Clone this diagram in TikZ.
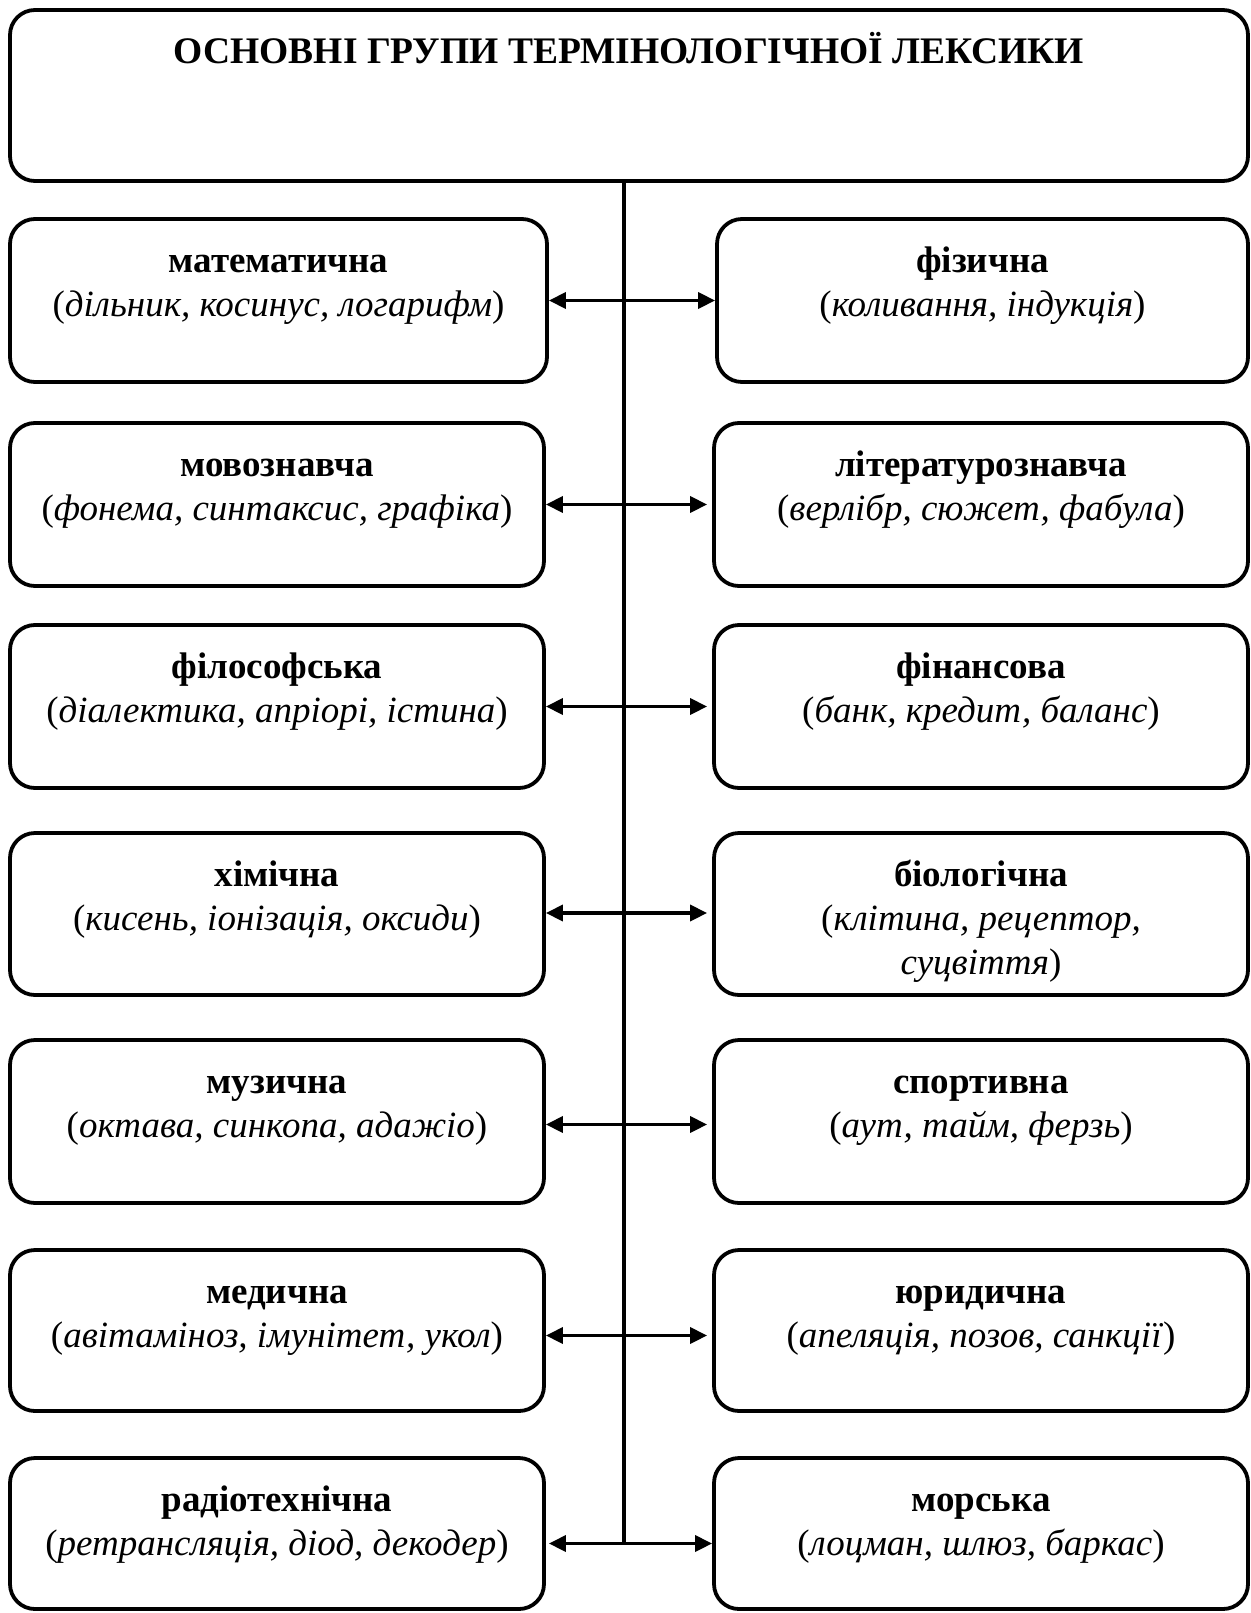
\documentclass[tikz,border=0pt]{standalone}
\usepackage{fontspec}
\setmainfont{Liberation Serif}
\usetikzlibrary{arrows.meta,calc}
\tikzset{
  box/.style={draw, line width=3.8pt, rounded corners=25pt, inner sep=0pt},
  lbl/.style={align=center, inner sep=0pt, anchor=north, font=\fontsize{37}{44}\selectfont},
  conn/.style={line width=3.5pt, {Triangle[length=17pt,width=16pt]}-{Triangle[length=17pt,width=16pt]}},
  spine/.style={line width=3.4pt}
}
\newcommand\gbox[5]{\node[box, minimum width={(#4-#2)*1pt}, minimum height={(#5-#3)*1pt}] (#1) at ({(#2+#4)/2},{(#3+#5)/2}) {};}
\newcommand\gtxt[3]{\node[lbl] (#1t) at ($(#1.north)+(0,24)$) {\textbf{\strut #2}\\#3};}
\begin{document}
\begin{tikzpicture}[x=1pt,y=-1pt]
\useasboundingbox (0,0) rectangle (1250,1613);
% header
\gbox{head}{10}{10}{1248}{181}
\node[anchor=base, inner sep=0pt, font=\fontsize{37.5}{44}\selectfont\bfseries] (headt) at (629,64) {ОСНОВНІ ГРУПИ ТЕРМІНОЛОГІЧНОЇ ЛЕКСИКИ};
% left column
\gbox{l1}{10}{219}{547}{382}
\gbox{l2}{10}{423}{544}{586}
\gbox{l3}{10}{625}{544}{788}
\gbox{l4}{10}{833}{544}{995}
\gbox{l5}{10}{1040}{544}{1203}
\gbox{l6}{10}{1250}{544}{1411}
\gbox{l7}{10}{1458}{544}{1609}
% right column
\gbox{r1}{717}{219}{1248}{382}
\gbox{r2}{714}{423}{1248}{586}
\gbox{r3}{714}{625}{1248}{788}
\gbox{r4}{714}{833}{1248}{995}
\gbox{r5}{714}{1040}{1248}{1203}
\gbox{r6}{714}{1250}{1248}{1411}
\gbox{r7}{714}{1458}{1248}{1609}
% texts
\gtxt{l1}{математична}{\strut(\textit{дільник, косинус, логарифм})}
\gtxt{l2}{мовознавча}{\strut(\textit{фонема, синтаксис, графіка})}
\gtxt{l3}{філософська}{\strut(\textit{діалектика, апріорі, істина})}
\gtxt{l4}{хімічна}{\strut(\textit{кисень, іонізація, оксиди})}
\gtxt{l5}{музична}{\strut(\textit{октава, синкопа, адажіо})}
\gtxt{l6}{медична}{\strut(\textit{авітаміноз, імунітет, укол})}
\gtxt{l7}{радіотехнічна}{\strut(\textit{ретрансляція, діод, декодер})}
\gtxt{r1}{фізична}{\strut(\textit{коливання, індукція})}
\gtxt{r2}{літературознавча}{\strut(\textit{верлібр, сюжет, фабула})}
\gtxt{r3}{фінансова}{\strut(\textit{банк, кредит, баланс})}
\gtxt{r4}{біологічна}{\strut(\textit{клітина, рецептор,}\\\strut\textit{суцвіття})}
\gtxt{r5}{спортивна}{\strut(\textit{аут, тайм, ферзь})}
\gtxt{r6}{юридична}{\strut(\textit{апеляція, позов, санкції})}
\gtxt{r7}{морська}{\strut(\textit{лоцман, шлюз, баркас})}
% spine
\coordinate (vend) at (624,1544);
\draw[spine] (vend |- head.south) -- (vend);
% connectors
\draw[conn] (l1.east) -- (r1.west);
\draw[conn, shorten >=5pt] (l2.east) -- (r2.west);
\draw[conn, shorten >=5pt] (l3.east) -- (r3.west);
\draw[conn, shorten >=5pt] ([yshift=1pt]l4.east) -- ([yshift=1pt]r4.west);
\draw[conn, shorten >=5pt] ([yshift=-3pt]l5.east) -- ([yshift=-3pt]r5.west);
\draw[conn, shorten >=5pt] ([yshift=-5pt]l6.east) -- ([yshift=-5pt]r6.west);
\draw[conn, shorten <=3pt] ([yshift=-10pt]l7.east) -- ([yshift=-10pt]r7.west);
\end{tikzpicture}
\end{document}
